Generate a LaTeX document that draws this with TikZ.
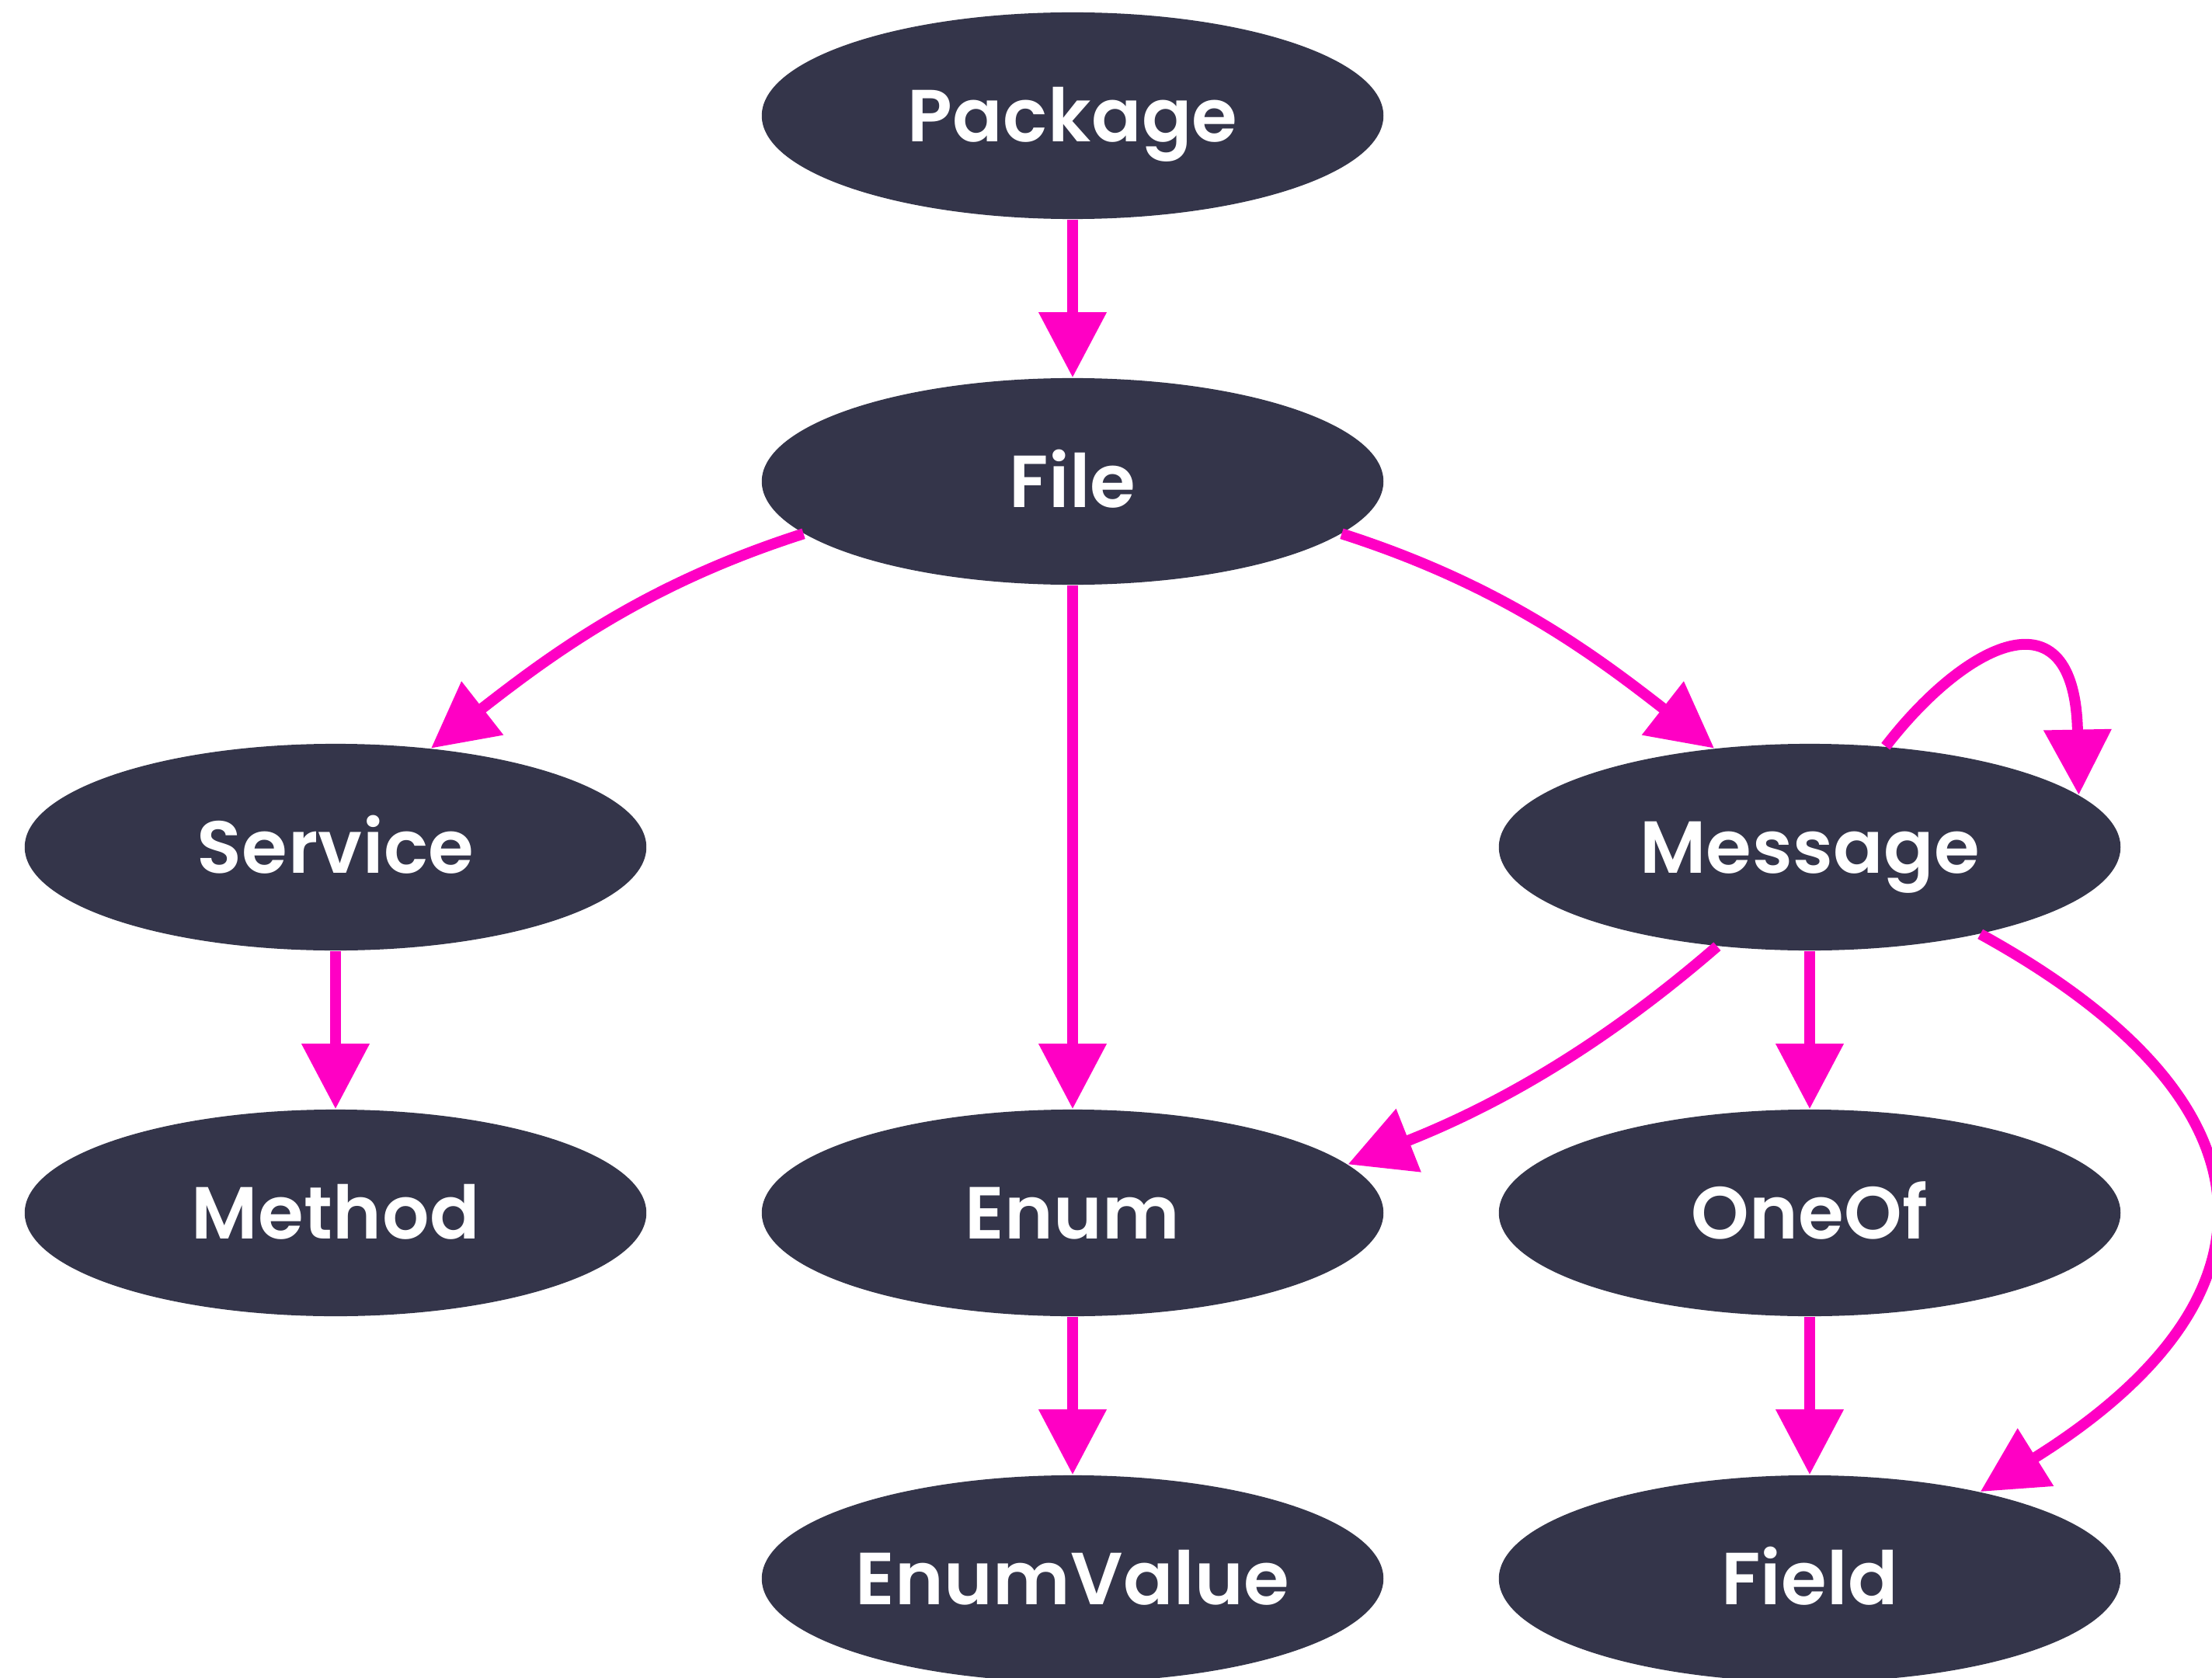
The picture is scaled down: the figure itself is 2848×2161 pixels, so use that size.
\documentclass[tikz,border=0pt]{standalone}
\usepackage{fontspec}
\usetikzlibrary{arrows.meta, shapes.geometric}
\newfontfamily\labelfont{Poppins}[LetterSpace=0.5, BoldFont={Poppins SemiBold}]
\definecolor{nodebg}{RGB}{52,53,74}
\definecolor{edgepink}{RGB}{255,0,196}

\begin{document}
\begin{tikzpicture}[x=0.01cm, y=-0.01cm,
  type/.style={ellipse, fill=nodebg, text=white, minimum width=8cm, minimum height=2.66cm, inner sep=0pt,
    text height=0.66cm, text depth=0pt, font=\labelfont\bfseries\fontsize{27}{27}\selectfont},
  link/.style={draw=edgepink, line width=1.4mm, -{Triangle[length=8.4mm, width=8.4mm]}}]
\clip (0,0) rectangle (2848,2161);
% Draw nodes
\node[type] (package) at (1381,149) {Package};
\node[type] (file) at (1381,620) {File};
\node[type] (service) at (432,1091) {Service};
\node[type] (message) at (2330,1091) {Message};
\node[type] (method) at (432,1562) {Method};
\node[type] (enum) at (1381,1562) {Enum};
\node[type] (oneof) at (2330,1562) {OneOf};
\node[type] (enumvalue) at (1381,2033) {EnumValue};
\node[type] (field) at (2330,2033) {Field};
% Draw straight links
\draw[link] (package) -- (file);
\draw[link] (file) -- (enum);
\draw[link] (service) -- (method);
\draw[link] (message) -- (oneof);
\draw[link] (enum) -- (enumvalue);
\draw[link] (oneof) -- (field);
% Draw curved links from file
\draw[link] (file.191) .. controls +(-200,64) and +(160,-125) .. (service.46);
\draw[link] (file.349) .. controls +(200,64) and +(-160,-125) .. (message.134);
% Draw self loop on message
\draw[link] (message.53) .. controls +(100,-130) and +(-5,-270) .. (message.11);
% Draw links out of message
\draw[link] (message.227) .. controls +(-150,130) and +(190,-75) .. (enum.10);
\draw[link] (message.333) .. controls +(394,217) and +(399,-249) .. (field.27);
\end{tikzpicture}
\end{document}
